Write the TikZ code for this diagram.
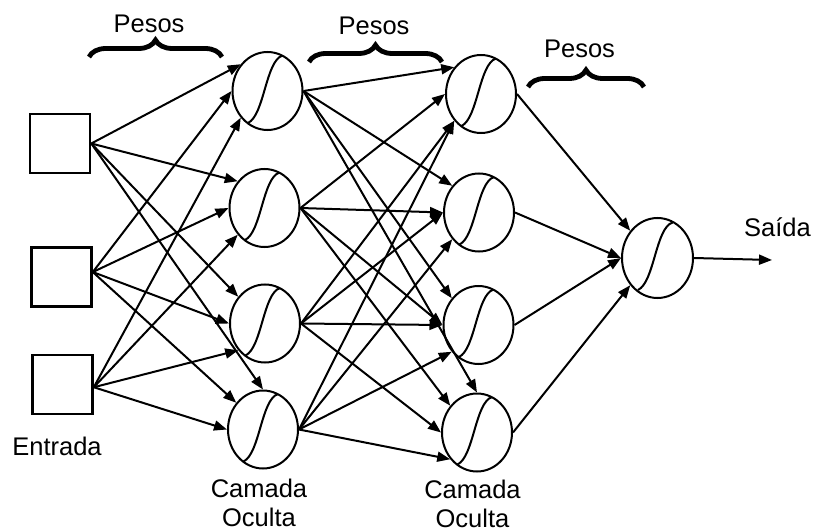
\documentclass[tikz,border=0pt]{standalone}
\usepackage{fontspec}
\setmainfont{Liberation Sans}
\usetikzlibrary{shapes.geometric,arrows.meta,decorations.pathreplacing,calc}
\begin{document}
\begin{tikzpicture}[x=1pt,y=-1pt,
  neuron/.style={draw, ellipse, line width=2pt, minimum width=70pt, minimum height=78pt, inner sep=0pt},
  inbox/.style={draw, rectangle, line width=2.6pt, minimum width=60pt, minimum height=59pt, inner sep=0pt},
  conn/.style={line width=2pt, -{Triangle[length=13pt,width=10pt]}},
  sig/.style={line width=2pt},
  lbl/.style={font=\fontsize{25.5}{29}\selectfont, inner sep=0pt},
  wbrace/.style={decorate, decoration={brace, amplitude=17pt}, line width=4.8pt},
]
\useasboundingbox (0,0) rectangle (814,532);

% input squares
\node[inbox] (in1) at (60,143.5) {};
\node[inbox] (in2) at (61.5,277) {};
\node[inbox] (in3) at (62.5,384.5) {};

% hidden layer 1
\node[neuron] (c1) at (267.5,91) {};
\node[neuron] (c2) at (264.5,208) {};
\node[neuron] (c3) at (265,323.5) {};
\node[neuron] (c4) at (263,429.5) {};

% hidden layer 2
\node[neuron] (d1) at (481,94) {};
\node[neuron] (d2) at (479,212.5) {};
\node[neuron] (d3) at (478.5,325) {};
\node[neuron] (d4) at (477,432.5) {};

% output
\node[neuron, minimum width=71pt, minimum height=80pt] (out) at (657.5,258) {};
\coordinate (outend) at (772,260);

% sigmoid curves
\foreach \n in {c1,c2,c3,c4,d1,d2,d3,d4,out}
  \draw[sig] ($(\n)+(-19.5,32)$) .. controls ($(\n)+(-3,24)$) and ($(\n)+(-2,-30)$) .. ($(\n)+(15,-35.5)$);

% input -> hidden 1
\foreach \t/\a/\b/\c in {c1/135/180/225, c2/135/180/225, c3/135/180/225, c4/90/135/180} {
  \draw[conn] (in1.east) -- (\t.\a);
  \draw[conn] (in2.9) -- (\t.\b);
  \draw[conn] (in3.-5) -- (\t.\c);
}

% hidden 1 -> hidden 2
\foreach \t/\a/\b/\c/\d in {d1/135/180/225/225, d2/135/180/180/225, d3/135/180/180/225, d4/90/135/180/225} {
  \draw[conn] (c1.east) -- (\t.\a);
  \draw[conn] (c2.east) -- (\t.\b);
  \draw[conn] (c3.east) -- (\t.\c);
  \draw[conn] (c4.east) -- (\t.\d);
}

% hidden 2 -> output
\draw[conn] (d1.east) -- (out.135);
\draw[conn] (d2.east) -- (out.180);
\draw[conn] (d3.east) -- (out.180);
\draw[conn] (d4.east) -- (out.225);
\draw[conn] (out.east) -- (outend);

% braces
\coordinate (b1s) at (89,57);  \coordinate (b1e) at (222,57);
\coordinate (b2s) at (309,62); \coordinate (b2e) at (442,62);
\coordinate (b3s) at (528,87); \coordinate (b3e) at (644,87);
\draw[wbrace] (b1s) -- (b1e);
\draw[wbrace] (b2s) -- (b2e);
\draw[wbrace] (b3s) -- (b3e);

% labels
\node[lbl, anchor=base] (p1) at (149,33) {Pesos};
\node[lbl, anchor=base] (p2) at (374,35) {Pesos};
\node[lbl, anchor=base] (p3) at (579.5,58) {Pesos};
\node[lbl, anchor=base] (sai) at (777.5,236) {Saída};
\node[lbl, anchor=base] (ent) at (57,455) {Entrada};
\node[lbl, anchor=north, align=center] (co1) at (259,479) {Camada\\Oculta};
\node[lbl, anchor=north, align=center] (co2) at (472.5,480) {Camada\\Oculta};
\end{tikzpicture}
\end{document}
